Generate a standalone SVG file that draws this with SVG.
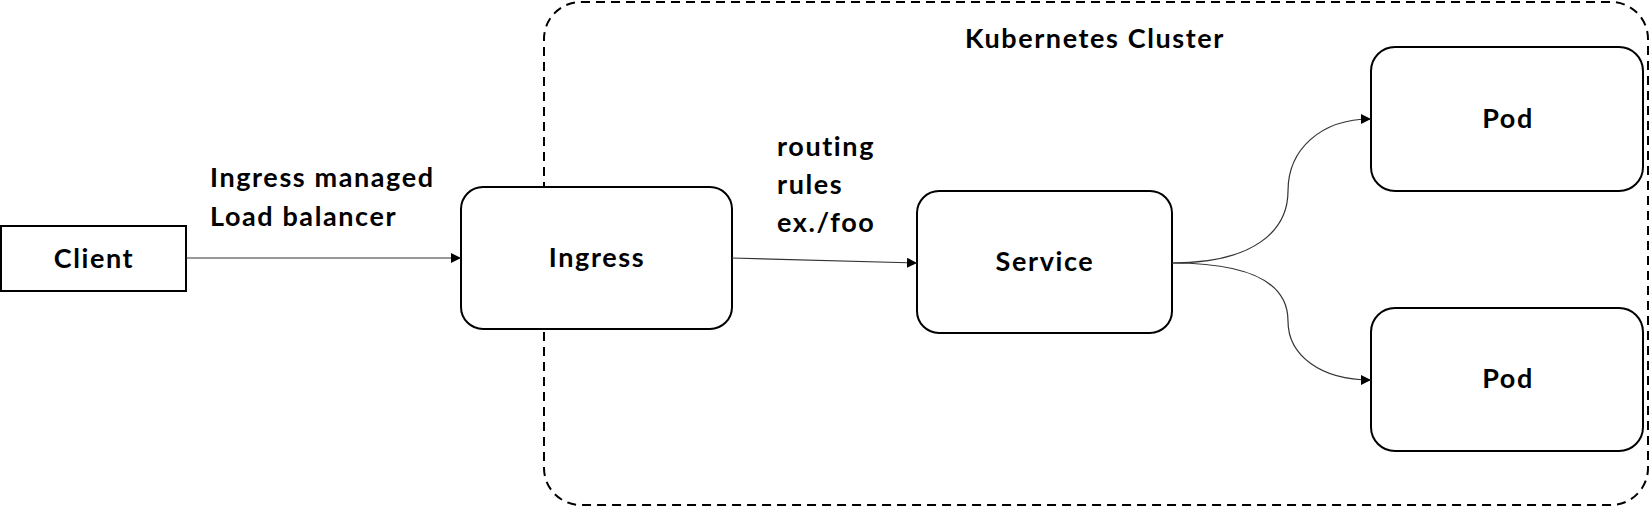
<svg xmlns="http://www.w3.org/2000/svg" width="1650" height="507" viewBox="0 0 1650 507">
<style>
  .box{fill:#fff;stroke:#000;stroke-width:2}
  .lbl{font-family:Lato,"Open Sans","Liberation Sans",sans-serif;font-weight:bold;font-size:27px;letter-spacing:1.6px;fill:#000}
  .mid{text-anchor:middle}
  .conn{fill:none;stroke:#333;stroke-width:1.2}
  .cluster{fill:none;stroke:#000;stroke-width:2;stroke-dasharray:9 6}
</style>
<defs>
  <marker id="arr" viewBox="0 0 10 10" refX="10" refY="5" markerWidth="10" markerHeight="10" markerUnits="userSpaceOnUse" orient="auto">
    <path d="M0,0 L10,5 L0,10 z" fill="#000"/>
  </marker>
</defs>
<rect width="1650" height="507" fill="#fff"/>
<g id="cluster">
  <rect class="cluster" x="544" y="2" width="1104" height="503" rx="37" ry="37"/>
  <text class="lbl mid" x="1095" y="48">Kubernetes Cluster</text>
</g>
<g id="client">
  <rect class="box" x="1" y="226" width="185" height="65"/>
  <text class="lbl mid" x="94" y="268">Client</text>
</g>
<g id="ingress">
  <rect class="box" x="461" y="187" width="271" height="142" rx="22" ry="22"/>
  <text class="lbl mid" x="597" y="267">Ingress</text>
</g>
<g id="service">
  <rect class="box" x="917" y="191" width="255" height="142" rx="22" ry="22"/>
  <text class="lbl mid" x="1045" y="271">Service</text>
</g>
<g id="pod1">
  <rect class="box" x="1371" y="47" width="272" height="144" rx="24" ry="24"/>
  <text class="lbl mid" x="1508" y="128">Pod</text>
</g>
<g id="pod2">
  <rect class="box" x="1371" y="308" width="272" height="143" rx="24" ry="24"/>
  <text class="lbl mid" x="1508" y="388">Pod</text>
</g>
<g id="connectors">
  <path class="conn" d="M186,258 L461,258" marker-end="url(#arr)"/>
  <text class="lbl" x="210" y="187">Ingress managed</text>
  <text class="lbl" x="210" y="226">Load balancer</text>
  <path class="conn" d="M732,258 L917,263" marker-end="url(#arr)"/>
  <text class="lbl" x="777" y="156">routing</text>
  <text class="lbl" x="777" y="194">rules</text>
  <text class="lbl" x="777" y="232">ex./foo</text>
  <path class="conn" d="M1172,263 C1255,263 1288,230 1288,191 C1288,150 1320,119 1371,119" marker-end="url(#arr)"/>
  <path class="conn" d="M1172,263 C1255,263 1288,285 1288,321 C1288,355 1320,380 1371,380" marker-end="url(#arr)"/>
</g>
</svg>
